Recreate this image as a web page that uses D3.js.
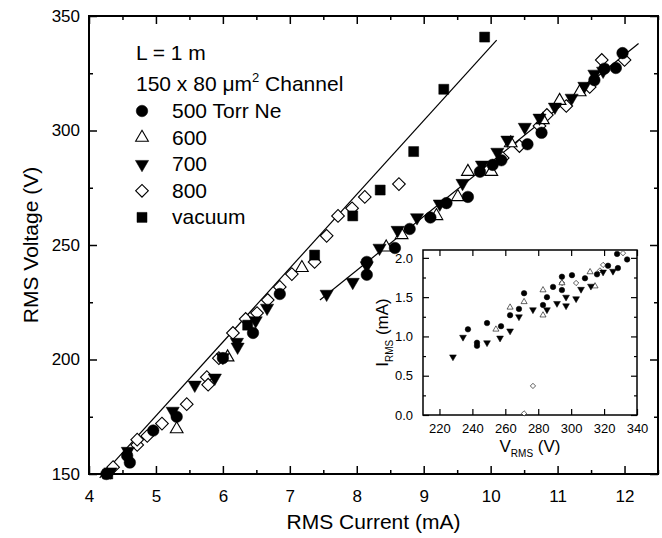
<!DOCTYPE html>
<html>
<head>
<meta charset="utf-8">
<script src="https://cdn.jsdelivr.net/npm/d3@7"></script>
<style>
  body { margin: 0; background: #fff; }
  svg text { font-family: "Liberation Sans", Arial, sans-serif; fill: #000; }
  .axis path.domain { display: none; }
  .axis line { stroke: #000; stroke-width: 1.5; }
  .inset .axis line { stroke-width: 1.2; }
</style>
</head>
<body>
<div id="chart"></div>
<script>
// main plot: [RMS current (mA), RMS voltage (V)]
const torr500 = [
  [4.26, 150], [4.57, 158], [4.61, 155], [4.96, 169], [5.31, 175], [6.0, 200.6],
  [6.45, 211.6], [6.85, 228.6], [8.15, 237], [8.15, 242.6], [8.57, 248.7], [8.79, 257],
  [9.1, 262], [9.34, 268.3], [9.66, 271], [9.84, 282], [10.03, 285], [10.16, 287],
  [10.55, 294], [10.76, 299], [11.55, 322], [11.7, 327], [11.87, 327.3], [11.97, 333.8]
];
const torr600 = [
  [5.31, 169.6], [6.07, 201], [7.18, 240], [8.44, 249], [8.67, 254.4], [9.19, 262.7],
  [9.51, 271], [9.66, 282], [10.01, 282], [10.3, 294.5], [10.78, 304.6], [11.03, 313],
  [11.33, 316.8]
];
const torr700 = [
  [4.32, 151], [4.58, 160], [5.25, 177.5], [5.58, 188.9], [5.88, 192], [6.0, 201],
  [6.21, 207.6], [6.22, 205.5], [6.49, 217], [6.66, 222.5], [7.55, 228.6], [7.94, 233.8],
  [8.15, 241], [8.34, 248.7], [8.61, 256.5], [8.9, 262], [9.24, 268], [9.58, 277],
  [9.87, 285], [10.1, 290.6], [10.25, 295.9], [10.51, 301.5], [10.73, 305.5], [10.96, 310.3],
  [11.21, 314.2], [11.4, 319.4], [11.55, 324.7], [11.68, 326]
];
const torr800 = [
  [4.36, 153], [4.72, 162.7], [4.72, 165], [4.87, 166.6], [5.09, 172], [5.46, 180.5],
  [5.76, 192.3], [5.78, 189], [5.94, 200.6], [6.15, 211.6], [6.34, 217.7], [6.51, 220.3],
  [6.67, 226], [6.85, 231.7], [7.03, 237.3], [7.37, 242.6], [7.55, 254], [7.72, 262.7],
  [7.93, 266], [8.12, 271], [8.63, 276.6], [10.18, 288], [10.43, 293.2], [10.73, 302],
  [10.84, 306.8], [11.13, 310.7], [11.48, 319], [11.66, 330.8], [12.0, 330.8]
];
const vacuum = [
  [4.28, 150], [6.37, 215], [7.37, 245.6], [7.94, 262.7], [8.35, 274], [8.85, 290.8],
  [9.3, 318], [9.91, 340.8]
];
// straight fits drawn through the two groups
const fitLow = [[4.16, 148.3], [10.09, 339.5]];
const fitHigh = [[7.45, 226], [12.21, 338]];

// inset: [V_RMS (V), I_RMS (mA)]
const inset500 = [
  [237.3, 1.09], [242.8, 0.92], [242.8, 0.88], [248.9, 1.17], [257.4, 1.13], [262.9, 1.27],
  [268.3, 1.35], [271.4, 1.55], [282.9, 1.40], [285.3, 1.50], [289, 1.63], [294.4, 1.76],
  [294.4, 1.59], [300.5, 1.78], [308.4, 1.74], [315.7, 1.79], [322.4, 1.90], [328.4, 1.87],
  [327.9, 2.05], [334, 1.98]
];
const inset600 = [
  [254.3, 1.09], [262.9, 1.37], [271.4, 1.44], [282.9, 1.59], [282.9, 1.27], [294.4, 1.68],
  [311.5, 1.82], [314.5, 1.64]
];
const inset700 = [
  [228.2, 0.74], [234.3, 0.99], [248.9, 0.92], [256.8, 0.98], [262.9, 1.07], [268.3, 1.25],
  [276.8, 1.34], [285.3, 1.34], [291.4, 1.42], [296.9, 1.50], [296.9, 1.39], [303, 1.48],
  [306, 1.60], [312, 1.64], [319.4, 1.82], [325.4, 1.83]
];
const inset800 = [
  [271.4, 0.02], [276.8, 0.37], [294.4, 1.68], [303, 1.68], [317.5, 1.84], [319.4, 1.91],
  [331.5, 2.06]
];

const xTicks = [4, 5, 6, 7, 8, 9, 10, 11, 12];
const yTicks = [150, 200, 250, 300, 350];
const insetXTicks = [220, 240, 260, 280, 300, 320, 340];
const insetYTicks = [0.0, 0.5, 1.0, 1.5, 2.0];
const legendLabels = ['500 Torr Ne', '600', '700', '800', 'vacuum'];

const width = 662;
const height = 538;

const svg = d3.select('#chart').append('svg')
  .attr('width', width)
  .attr('height', height);

const x = d3.scaleLinear().domain([4, 12.5]).range([89, 658]);
const y = d3.scaleLinear().domain([150, 350]).range([474, 16]);

// symbol makers: kind -> path + style
function symbolPath(kind, size) {
  if (kind === 'circle') return d3.symbol(d3.symbolCircle, size)();
  if (kind === 'square' || kind === 'diamond') return d3.symbol(d3.symbolSquare, size)();
  return d3.symbol(d3.symbolTriangle, size)();
}
function rot(kind) {
  if (kind === 'down') return ' rotate(180)';
  if (kind === 'diamond') return ' rotate(45)';
  return '';
}
const filled = { circle: true, square: true, down: true, up: false, diamond: false };

function drawPoints(g, data, kind, sx, sy, size, sw) {
  g.append('g').selectAll('path').data(data).enter()
    .append('path')
    .attr('d', symbolPath(kind, size))
    .attr('transform', d => `translate(${sx(d[0])},${sy(d[1])})` + rot(kind))
    .attr('fill', filled[kind] ? '#000' : '#fff')
    .attr('stroke', '#000')
    .attr('stroke-width', filled[kind] ? 0.5 : sw);
}

// ---- main axes: ticks point inward on all four sides
function minorValues(lo, hi, step) {
  return d3.range(lo, hi + 1e-9, step).filter(v => Math.abs(v / (step * 2) - Math.round(v / (step * 2))) > 1e-6);
}
const xMinor = minorValues(4, 12.5, 0.5);
const yMinor = minorValues(150, 350, 25);

svg.append('g').attr('class', 'axis')
  .attr('transform', `translate(0,${y(150)})`)
  .call(d3.axisBottom(x).tickValues(xTicks).tickSize(-8).tickPadding(16).tickFormat(d3.format('d')))
  .call(g => g.selectAll('text').attr('font-size', 17).attr('font-family', 'Liberation Sans, Arial'));
svg.append('g').attr('class', 'axis')
  .attr('transform', `translate(0,${y(150)})`)
  .call(d3.axisBottom(x).tickValues(xMinor).tickSize(-4).tickFormat(''));
svg.append('g').attr('class', 'axis')
  .attr('transform', `translate(0,${y(350)})`)
  .call(d3.axisTop(x).tickValues(xTicks).tickSize(-8).tickFormat(''));
svg.append('g').attr('class', 'axis')
  .attr('transform', `translate(0,${y(350)})`)
  .call(d3.axisTop(x).tickValues(xMinor).tickSize(-4).tickFormat(''));

svg.append('g').attr('class', 'axis')
  .attr('transform', `translate(${x(4)},0)`)
  .call(d3.axisLeft(y).tickValues(yTicks).tickSize(-8).tickPadding(9).tickFormat(d3.format('d')))
  .call(g => g.selectAll('text').attr('font-size', 17).attr('font-family', 'Liberation Sans, Arial'));
svg.append('g').attr('class', 'axis')
  .attr('transform', `translate(${x(4)},0)`)
  .call(d3.axisLeft(y).tickValues(yMinor).tickSize(-4).tickFormat(''));
svg.append('g').attr('class', 'axis')
  .attr('transform', `translate(${x(12.5)},0)`)
  .call(d3.axisRight(y).tickValues(yTicks).tickSize(-8).tickFormat(''));
svg.append('g').attr('class', 'axis')
  .attr('transform', `translate(${x(12.5)},0)`)
  .call(d3.axisRight(y).tickValues(yMinor).tickSize(-4).tickFormat(''));

svg.append('rect')
  .attr('x', x(4)).attr('y', y(350))
  .attr('width', x(12.5) - x(4)).attr('height', y(150) - y(350))
  .attr('fill', 'none').attr('stroke', '#000').attr('stroke-width', 2);

// axis titles
svg.append('text')
  .attr('x', (x(4) + x(12.5)) / 2).attr('y', 529)
  .attr('text-anchor', 'middle').attr('font-size', 21)
  .text('RMS Current (mA)');
svg.append('text')
  .attr('transform', `translate(38,${(y(150) + y(350)) / 2}) rotate(-90)`)
  .attr('text-anchor', 'middle').attr('font-size', 21)
  .text('RMS Voltage (V)');

// fit lines
const line = d3.line().x(d => x(d[0])).y(d => y(d[1]));
[fitLow, fitHigh].forEach(f => {
  svg.append('path').attr('d', line(f))
    .attr('fill', 'none').attr('stroke', '#000').attr('stroke-width', 1.2);
});

// data
const plot = svg.append('g');
drawPoints(plot, torr800, 'diamond', x, y, 80, 1.1);
drawPoints(plot, torr600, 'up', x, y, 70, 1.1);
drawPoints(plot, vacuum, 'square', x, y, 100, 1);
drawPoints(plot, torr700, 'down', x, y, 75, 1);
drawPoints(plot, torr500, 'circle', x, y, 105, 1);

// legend
const legend = svg.append('g');
legend.append('text').attr('x', 136).attr('y', 60).attr('font-size', 21).text('L = 1 m');
const chan = legend.append('text').attr('x', 136).attr('y', 91).attr('font-size', 21);
chan.append('tspan').text('150 x 80 ');
chan.append('tspan').text('\u03bcm');
chan.append('tspan').attr('font-size', 13).attr('dy', -9).text('2');
chan.append('tspan').attr('dy', 9).text(' Channel');

const legendKinds = ['circle', 'up', 'down', 'diamond', 'square'];
const legendSizes = [105, 70, 75, 80, 100];
legendLabels.forEach((label, i) => {
  const yy = 118 + i * 26.6;
  const kind = legendKinds[i];
  legend.append('path')
    .attr('d', symbolPath(kind, legendSizes[i]))
    .attr('transform', `translate(142,${yy - 7})` + rot(kind))
    .attr('fill', filled[kind] ? '#000' : '#fff')
    .attr('stroke', '#000')
    .attr('stroke-width', filled[kind] ? 0.5 : 1.1);
  legend.append('text').attr('x', 172).attr('y', yy).attr('font-size', 21).text(label);
});

// ---- inset
const ix = d3.scaleLinear().domain([210, 340]).range([423, 637]);
const iy = d3.scaleLinear().domain([0, 2.1]).range([415, 250]);
const inset = svg.append('g').attr('class', 'inset');
const iyMinor = [0.25, 0.75, 1.25, 1.75];

inset.append('rect')
  .attr('x', ix(210)).attr('y', iy(2.1))
  .attr('width', ix(340) - ix(210)).attr('height', iy(0) - iy(2.1))
  .attr('fill', '#fff');

inset.append('g').attr('class', 'axis')
  .attr('transform', `translate(0,${iy(0)})`)
  .call(d3.axisBottom(ix).tickValues(insetXTicks).tickSize(-6).tickPadding(9))
  .call(g => g.selectAll('text').attr('font-size', 13).attr('font-family', 'Liberation Sans, Arial'));
inset.append('g').attr('class', 'axis')
  .attr('transform', `translate(0,${iy(2.1)})`)
  .call(d3.axisTop(ix).tickValues(insetXTicks).tickSize(-6).tickFormat(''));
inset.append('g').attr('class', 'axis')
  .attr('transform', `translate(${ix(210)},0)`)
  .call(d3.axisLeft(iy).tickValues(insetYTicks).tickSize(-6).tickPadding(10).tickFormat(d3.format('.1f')))
  .call(g => g.selectAll('text').attr('font-size', 13).attr('font-family', 'Liberation Sans, Arial'));
inset.append('g').attr('class', 'axis')
  .attr('transform', `translate(${ix(210)},0)`)
  .call(d3.axisLeft(iy).tickValues(iyMinor).tickSize(-3).tickFormat(''));
inset.append('g').attr('class', 'axis')
  .attr('transform', `translate(${ix(340)},0)`)
  .call(d3.axisRight(iy).tickValues(insetYTicks).tickSize(-6).tickFormat(''));
inset.append('g').attr('class', 'axis')
  .attr('transform', `translate(${ix(340)},0)`)
  .call(d3.axisRight(iy).tickValues(iyMinor).tickSize(-3).tickFormat(''));

inset.append('rect')
  .attr('x', ix(210)).attr('y', iy(2.1))
  .attr('width', ix(340) - ix(210)).attr('height', iy(0) - iy(2.1))
  .attr('fill', 'none').attr('stroke', '#000').attr('stroke-width', 1.5);

const vt = inset.append('text')
  .attr('x', (ix(210) + ix(340)) / 2).attr('y', 452)
  .attr('text-anchor', 'middle').attr('font-size', 17);
vt.append('tspan').text('V');
vt.append('tspan').attr('font-size', 10).attr('dy', 5).text('RMS');
vt.append('tspan').attr('dy', -5).text(' (V)');

const it = inset.append('text')
  .attr('transform', `translate(388,${(iy(0) + iy(2.1)) / 2}) rotate(-90)`)
  .attr('text-anchor', 'middle').attr('font-size', 17);
it.append('tspan').text('I');
it.append('tspan').attr('font-size', 10).attr('dy', 5).text('RMS');
it.append('tspan').attr('dy', -5).text(' (mA)');

drawPoints(inset, inset800, 'diamond', ix, iy, 14, 0.6);
drawPoints(inset, inset600, 'up', ix, iy, 16, 0.6);
drawPoints(inset, inset700, 'down', ix, iy, 20, 0.6);
drawPoints(inset, inset500, 'circle', ix, iy, 24, 0.6);
</script>
</body>
</html>
